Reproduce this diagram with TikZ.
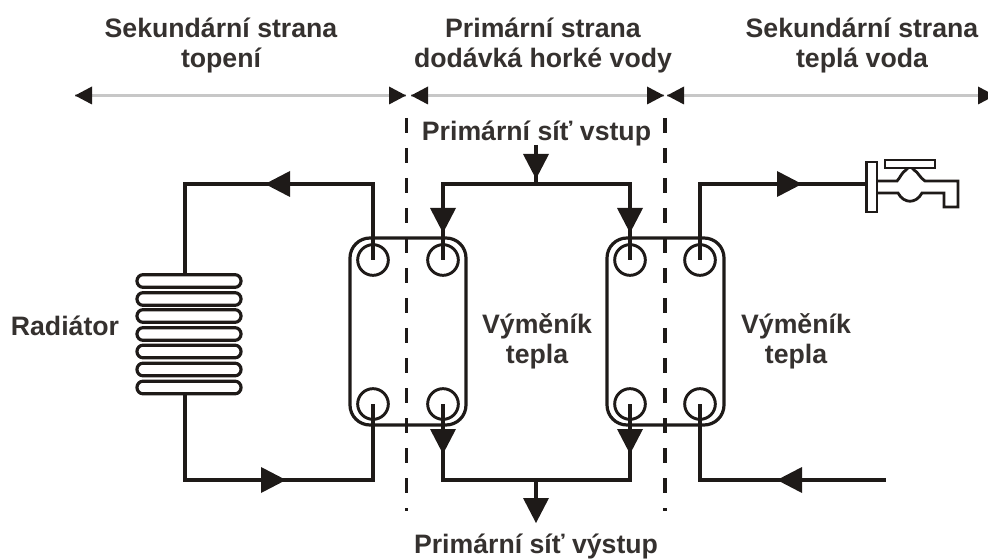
\documentclass[tikz,border=0pt]{standalone}
\usepackage{fontspec}
\setmainfont{Liberation Sans}
\usetikzlibrary{arrows.meta}
\definecolor{ink}{HTML}{1E1A18}
\tikzset{
  x=0.75pt,y=-0.75pt,
  pipe/.style={draw=ink,line width=2.4pt,line join=miter},
  port/.style={circle,draw=ink,line width=2.2pt,minimum size=23pt,inner sep=0pt},
  plate/.style={rectangle,draw=ink,line width=2.4pt,rounded corners=15pt},
  fin/.style={rectangle,draw=ink,line width=2.4pt,rounded corners=4.6pt,minimum width=78pt,minimum height=9.5pt,inner sep=0pt},
  tap/.style={draw=ink,line width=2.1pt,line join=miter},
  divider/.style={draw=ink,line width=2.5pt,dash pattern=on 11.25pt off 11.25pt},
  scale line/.style={draw=black!22,line width=1.9pt},
  label/.style={font=\bfseries\fontsize{20}{22.5}\selectfont,text=ink!90,align=center,inner sep=0pt},
  flow/.pic={\fill[ink] (0,0) -- (-25,-13) -- (-25,13) -- cycle;},
  stop/.pic={\fill[ink] (0,0) -- (-17,-9) -- (-17,9) -- cycle;}
}
\begin{document}
\begin{tikzpicture}
\useasboundingbox (0,0) rectangle (988,559);
% texts
\node[label] (t1) at (221,45.5) {Sekundární strana\\topení};
\node[label] (t2) at (543,45.5) {Primární strana\\dodávká horké vody};
\node[label] (t3) at (862,45.5) {Sekundární strana\\teplá voda};
\node[label] (t4) at (536.5,133) {Primární síť vstup};
\node[label] (t5) at (536,546.5) {Primární síť výstup};
\node[label] (t6) at (65,326) {Radiátor};
\node[label] (t7) at (537,341) {Výměník\\tepla};
\node[label] (t8) at (796,341) {Výměník\\tepla};
% scale line
\coordinate (s0) at (75,95.5);
\coordinate (s1) at (406,95.5);
\coordinate (s2) at (411,95.5);
\coordinate (s3) at (664,95.5);
\coordinate (s4) at (667,95.5);
\coordinate (s5) at (995,95.5);
\draw[scale line] (s0) -- (s1);
\draw[scale line] (s2) -- (s3);
\draw[scale line] (s4) -- (s5);
\pic[rotate=180] at (s0) {stop};
\pic at (s1) {stop};
\pic[rotate=180] at (s2) {stop};
\pic at (s3) {stop};
\pic[rotate=180] at (s4) {stop};
\pic at (s5) {stop};
% dividers
\coordinate (d1a) at (406.5,118);
\coordinate (d1b) at (406.5,511);
\coordinate (d2a) at (665,118);
\coordinate (d2b) at (665,511);
\draw[divider] (d1a) -- (d1b);
\draw[divider] (d2a) -- (d2b);
% exchangers
\node[plate,minimum width=87pt,minimum height=140.25pt] (hxa) at (408,331.5) {};
\node[plate,minimum width=87.75pt,minimum height=140.25pt] (hxb) at (665.5,331.5) {};
\node[port] (a1) at (373,260) {};
\node[port] (a2) at (443,260) {};
\node[port] (a3) at (373,404) {};
\node[port] (a4) at (443,404) {};
\node[port] (b1) at (630,260) {};
\node[port] (b2) at (700,260) {};
\node[port] (b3) at (630,404) {};
\node[port] (b4) at (700,404) {};
% radiator
\foreach \n/\y in {1/281,2/299,3/316,4/334,5/351.5,6/369.5,7/387.5}{
  \node[fin] (r\n) at (189,\y) {};
}
% junctions and pipe ends
\coordinate (rtop) at (185,276);
\coordinate (rbot) at (185,393);
\coordinate (rtopc) at (185,184);
\coordinate (rbotc) at (185,480);
\coordinate (topin) at (536,145);
\coordinate (topj) at (536,184);
\coordinate (botj) at (536,480);
\coordinate (botout) at (536,505);
\coordinate (coldin) at (886,480);
\coordinate (tapin) at (867,184);
\draw[pipe] (a1.center) |- (rtopc) -- (rtop);
\draw[pipe] (rbot) -- (rbotc) -| (a3.center);
\draw[pipe] (a2.center) |- (topj) -| (b1.center);
\draw[pipe] (a4.center) |- (botj) -| (b3.center);
\draw[pipe] (topin) -- (topj);
\draw[pipe] (botj) -- (botout);
\draw[pipe] (b2.center) |- (tapin);
\draw[pipe] (b4.center) |- (coldin);
% flow arrows
\pic[rotate=180] at (265,184) {flow};
\pic at (286,480) {flow};
\pic[rotate=-90] at (443,233) {flow};
\pic[rotate=-90] at (630,233) {flow};
\pic[rotate=-90] at (536,179) {flow};
\pic[rotate=-90] at (443,454) {flow};
\pic[rotate=-90] at (630,454) {flow};
\pic[rotate=-90] at (536,523) {flow};
\pic at (802,184) {flow};
\pic[rotate=180] at (777,480) {flow};
% tap drawing
\draw[tap,fill=white] (866.5,162) rectangle (877,212);
\draw[tap,fill=white] (885,160) rectangle (935,168);
\draw[tap] (877,181) -- (897,181) .. controls (900,178) and (902,172) .. (906,170) -- (908,168);
\draw[tap] (912,168) -- (914,170) .. controls (918,172) and (920,178) .. (925,181) -- (958,181) -- (958,207) -- (944,207) -- (944,193) -- (922,193) .. controls (916,204) and (904,204) .. (898,193) -- (877,193);
\end{tikzpicture}
\end{document}
